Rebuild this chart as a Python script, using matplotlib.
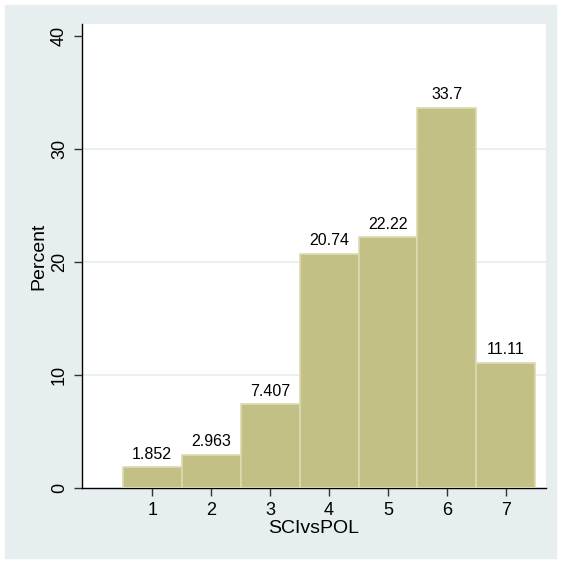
import matplotlib
matplotlib.use("Agg")
import matplotlib.pyplot as plt

plt.rcParams['font.family'] = ['Liberation Sans', 'DejaVu Sans']

# data
categories = [1, 2, 3, 4, 5, 6, 7]
percents = [1.852, 2.963, 7.407, 20.74, 22.22, 33.7, 11.11]
bar_labels = ['1.852', '2.963', '7.407', '20.74', '22.22', '33.7', '11.11']
y_ticks = [0, 10, 20, 30, 40]

outer_bg = '#e6eef0'
bar_fill = '#c3c086'
bar_edge = '#dcdab2'

fig = plt.figure(figsize=(5.61, 5.62), dpi=100)
# light panel with thin white border (Stata s2color look)
fig.patches.append(plt.Rectangle((5 / 561, 4 / 562), 551 / 561, 553 / 562,
                                 transform=fig.transFigure, color=outer_bg, zorder=-10))

ax = fig.add_axes([82 / 561, 1 - 488 / 562, 464 / 561, 464 / 562])
ax.set_zorder(1)
ax.set_facecolor('white')

ax.bar(categories, percents, width=1.0, color=bar_fill, edgecolor=bar_edge,
       linewidth=1.2, zorder=3)
for x, y, lab in zip(categories, percents, bar_labels):
    ax.annotate(lab, (x, y), xytext=(0, 4), textcoords='offset points',
                ha='center', va='bottom', fontsize=11.5, zorder=4)

for g in y_ticks[1:-1]:
    ax.axhline(g, color='#e3edf0', linewidth=1.2, zorder=1)

ax.set_xlim(-0.19, 7.68)
ax.set_ylim(0, 41.1)
ax.set_xticks(categories)
ax.set_yticks(y_ticks)
ax.tick_params(axis='both', length=6, width=1, color='#333333', labelsize=13, pad=4)
for lab in ax.get_yticklabels():
    lab.set_rotation(90)
    lab.set_va('center')

for side in ['top', 'right']:
    ax.spines[side].set_visible(False)
for side in ['left', 'bottom']:
    ax.spines[side].set_color('black')
    ax.spines[side].set_linewidth(1)

ax.set_xlabel('SCIvsPOL', fontsize=14, labelpad=1)
ax.set_ylabel('Percent', fontsize=14, labelpad=3)

fig.savefig('out.png', dpi=100, facecolor='white')
